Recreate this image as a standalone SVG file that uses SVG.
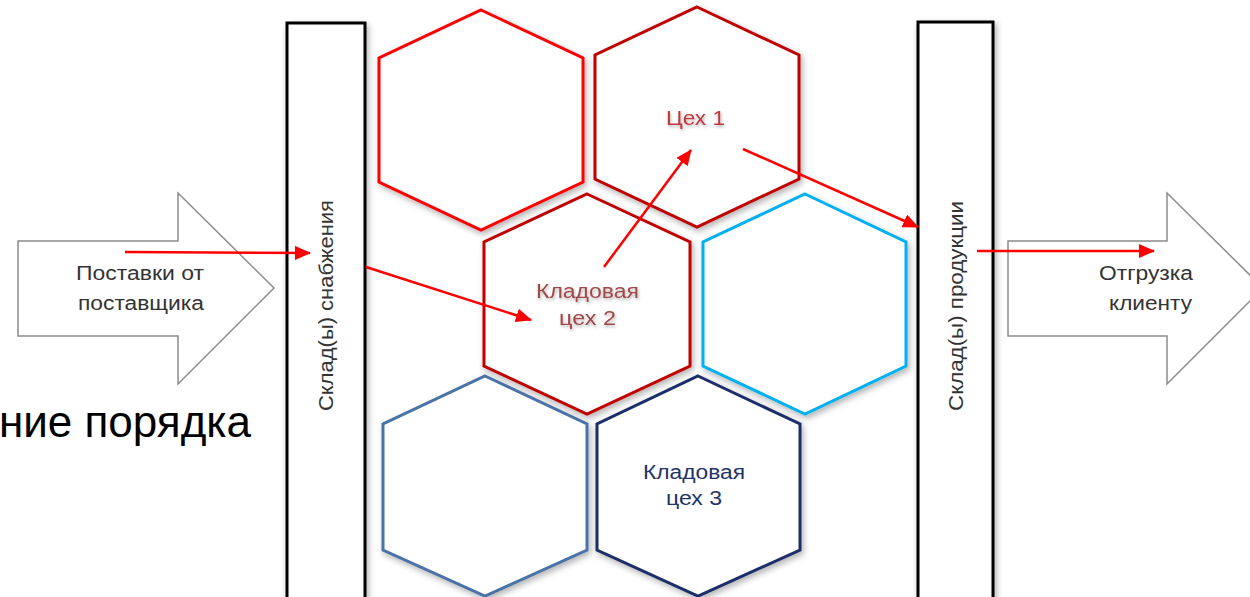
<svg xmlns="http://www.w3.org/2000/svg" width="1250" height="597" viewBox="0 0 1250 597">
<defs>
<style>
.hex{fill:#ffffff;stroke-width:3;filter:url(#sh)}
.blk{fill:#ffffff;stroke:#8c8c8c;stroke-width:1.5}
.store{fill:#ffffff;stroke:#000000;stroke-width:3;filter:url(#sh)}
.t{font-family:"Liberation Sans",Arial,sans-serif;font-size:20px;text-anchor:middle}
.conn{stroke:#ff0000;stroke-width:2.5;fill:none;marker-end:url(#ah)}
</style>
<filter id="sh" x="-20%" y="-20%" width="140%" height="140%">
<feDropShadow dx="2" dy="3" stdDeviation="3" flood-color="#000" flood-opacity="0.3"/>
</filter>
<filter id="tsh" x="-20%" y="-30%" width="140%" height="160%">
<feDropShadow dx="1" dy="2" stdDeviation="1.5" flood-color="#000" flood-opacity="0.3"/>
</filter>
<marker id="ah" markerUnits="userSpaceOnUse" markerWidth="16" markerHeight="14" refX="15" refY="7" orient="auto">
<path d="M0,0 L16,7 L0,14 z" fill="#ff0000"/>
</marker>
</defs>
<rect width="1250" height="597" fill="#ffffff"/>

<text x="251" y="437" font-family="'Liberation Sans',Arial,sans-serif" font-size="44" text-anchor="end" fill="#000">ние порядка</text>

<g id="supplier-arrow">
<polygon class="blk" points="18,241 178,241 178,193 274,288 178,384 178,336 18,336"/>
<text class="t" x="140" y="280" fill="#333" textLength="128" lengthAdjust="spacingAndGlyphs">Поставки от</text>
<text class="t" x="141" y="310" fill="#333" textLength="126" lengthAdjust="spacingAndGlyphs">поставщика</text>
</g>

<g id="client-arrow">
<polygon class="blk" points="1008,241 1167,241 1167,193 1263,288 1167,384 1167,336 1008,336"/>
<text class="t" x="1146" y="280" fill="#333" textLength="94" lengthAdjust="spacingAndGlyphs">Отгрузка</text>
<text class="t" x="1150.5" y="310" fill="#333" textLength="83" lengthAdjust="spacingAndGlyphs">клиенту</text>
</g>

<g id="supply-store">
<rect class="store" x="287" y="23" width="78" height="600"/>
<text class="t" transform="translate(333,305.5) rotate(-90)" fill="#333" textLength="211" lengthAdjust="spacingAndGlyphs">Склад(ы) снабжения</text>
</g>

<g id="product-store">
<rect class="store" x="918" y="22" width="75" height="600"/>
<text class="t" transform="translate(963,306) rotate(-90)" fill="#333" textLength="210" lengthAdjust="spacingAndGlyphs">Склад(ы) продукции</text>
</g>

<g id="hex-a">
<polygon class="hex" stroke="#ff0000" points="481,10 583,58 583,182 481,230 379,182 379,58"/>
</g>
<g id="hex-workshop1">
<polygon class="hex" stroke="#c00000" points="697,7 799,55 799,179 697,227 595,179 595,55"/>
<text class="t" x="695.5" y="125" fill="#c0393b" filter="url(#tsh)" textLength="59" lengthAdjust="spacingAndGlyphs">Цех 1</text>
</g>
<g id="hex-store2">
<polygon class="hex" stroke="#c00000" points="587,194 690,242 690,366 587,414 484,366 484,242"/>
<text class="t" x="587.5" y="298" fill="#a04848" filter="url(#tsh)" textLength="103" lengthAdjust="spacingAndGlyphs">Кладовая</text>
<text class="t" x="587.5" y="325" fill="#a04848" filter="url(#tsh)" textLength="57" lengthAdjust="spacingAndGlyphs">цех 2</text>
</g>
<g id="hex-d">
<polygon class="hex" stroke="#00b0f0" points="805,194 906,242 906,366 805,414 703,366 703,242"/>
</g>
<g id="hex-e">
<polygon class="hex" stroke="#4a72a6" points="485,376 587,424 587,550 485,596 383,550 383,424"/>
</g>
<g id="hex-store3">
<polygon class="hex" stroke="#1a2f6a" points="698,376 800,424 800,550 698,596 597,550 597,424"/>
<text class="t" x="694" y="479" fill="#1f3468" textLength="102" lengthAdjust="spacingAndGlyphs">Кладовая</text>
<text class="t" x="694" y="505" fill="#1f3468" textLength="56" lengthAdjust="spacingAndGlyphs">цех 3</text>
</g>

<g id="connectors">
<line class="conn" x1="125" y1="252" x2="310" y2="253"/>
<line class="conn" x1="366" y1="267" x2="531" y2="320"/>
<line class="conn" x1="604" y1="267" x2="691" y2="150"/>
<line class="conn" x1="743" y1="149" x2="918" y2="227"/>
<line class="conn" x1="977" y1="251" x2="1154" y2="251"/>
</g>
</svg>
